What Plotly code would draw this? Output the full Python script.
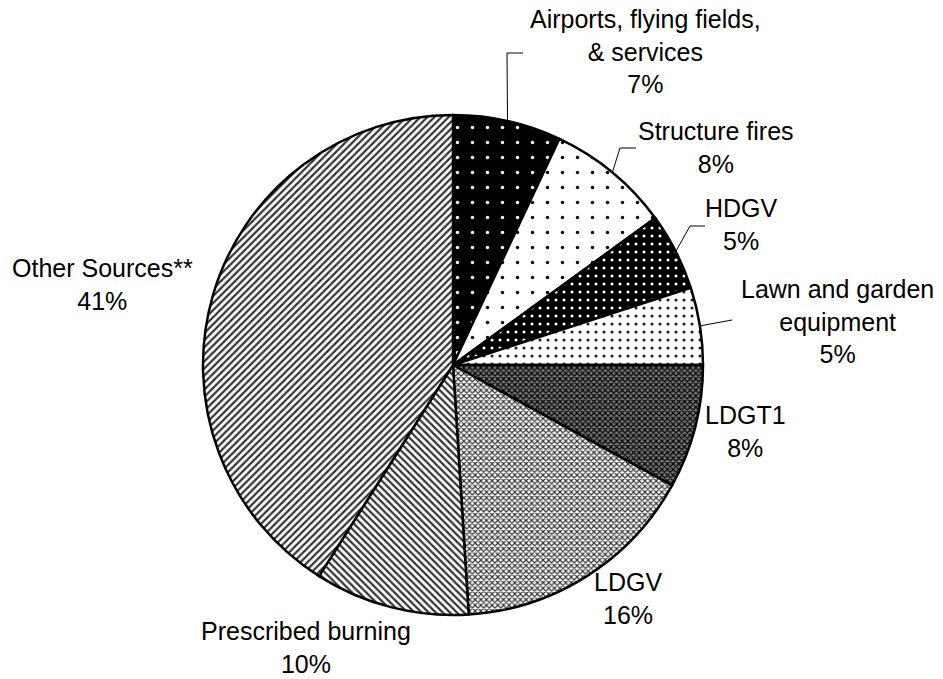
import math
import plotly.graph_objects as go

# ---- data ----
labels = ["Airports, flying fields,<br>& services", "Structure fires", "HDGV",
          "Lawn and garden<br>equipment", "LDGT1", "LDGV", "Prescribed burning",
          "Other Sources**"]
values = [7, 8, 5, 5, 8, 16, 10, 41]

# ---- styles ----
shapes_p = [".", ".", ".", ".", "x", "x", "\\", "/"]
bgcols = ["black", "white", "black", "white", "#777777", "white", "white", "white"]
fgcols = ["white", "black", "white", "#222222", "black", "#333333", "#333333", "#333333"]
psizes = [15, 15, 8, 8, 4, 4, 5, 5]
psolid = [0.04, 0.04, 0.12, 0.12, 0.5, 0.5, 0.45, 0.45]

W, H = 943, 679
cx, cy, R = 453, 365, 250

# label anchor positions (pixels) and leader-line elbows
label_pos = [(645, 52), (716, 147), (741, 225), (837, 321), (745, 431), (628, 598),
             (306, 647), (102, 284)]
elbows = [(507, 53), (620, 148), (690, 226), (732, 320), None, None, None, None]
elbow_len = [16, 16, 15, 0, 0, 0, 0, 0]

fig = go.Figure(go.Pie(
    labels=labels, values=values, sort=False, direction="clockwise", rotation=0,
    textinfo="none", hoverinfo="label+percent",
    marker=dict(line=dict(color="black", width=2.5),
                colors=bgcols,
                pattern=dict(shape=shapes_p, bgcolor=bgcols, fgcolor=fgcols,
                             size=psizes, solidity=psolid, fillmode="replace")),
    domain=dict(x=[(cx - R) / W, (cx + R) / W], y=[(H - cy - R) / H, (H - cy + R) / H]),
    showlegend=False,
))

total = sum(values)
cum = 0
shapes = []
annotations = []
for i, v in enumerate(values):
    mid = (cum + v / 2) / total * 2 * math.pi
    cum += v
    pct = round(v / total * 100)
    lx, ly = label_pos[i]
    annotations.append(dict(x=lx / W, y=1 - ly / H, xref="paper", yref="paper",
                            text=f"{labels[i]}<br>{pct}%", showarrow=False,
                            font=dict(family="Liberation Sans, Arial", size=25, color="black"),
                            align="center", xanchor="center", yanchor="middle"))
    if elbows[i] is not None:
        sx = cx + R * math.sin(mid)
        sy = cy - R * math.cos(mid)
        ex, ey = elbows[i]
        path = f"M{sx/W},{1-sy/H} L{ex/W},{1-ey/H}"
        if elbow_len[i]:
            path += f" L{(ex+elbow_len[i])/W},{1-ey/H}"
        shapes.append(dict(type="path", xref="paper", yref="paper", path=path,
                           line=dict(color="black", width=1)))

fig.update_layout(width=W, height=H, margin=dict(l=0, r=0, t=0, b=0),
                  paper_bgcolor="white", plot_bgcolor="white",
                  shapes=shapes, annotations=annotations)
fig.write_html("out.html", post_script="document.body.style.margin='0';",
               config={"displayModeBar": False})
